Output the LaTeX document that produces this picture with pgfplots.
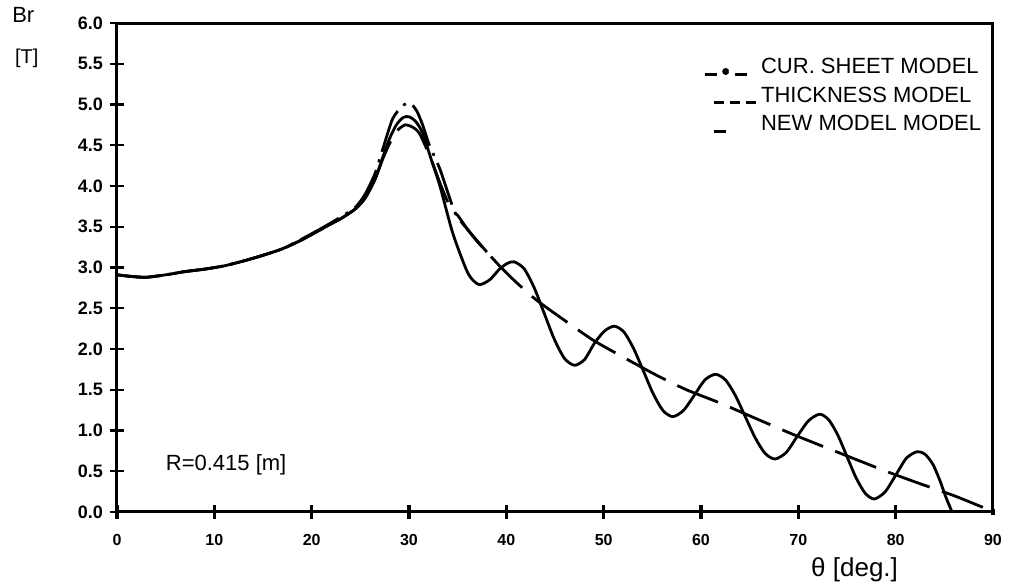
\documentclass[border=0pt]{standalone}
\usepackage{fontspec}
\setmainfont{Liberation Sans}
\usepackage{pgfplots}
\pgfplotsset{compat=1.18}

\begin{document}
\begin{tikzpicture}
\begin{axis}[
    scale only axis,
    width=438pt, height=244.5pt,
    xmin=0, xmax=90, ymin=0, ymax=6,
    xtick={0,10,...,90},
    ytick={0,0.5,...,6},
    axis line style={line width=1.5pt},
    every tick/.style={line width=1.2pt, black},
    tick align=center,
    xtick pos=bottom, ytick pos=left,
    major tick length=7pt,
    x tick style={line width=1.8pt, shorten <=2pt, shorten >=2pt},
    /pgf/number format/assume math mode=true,
    yticklabel style={font=\bfseries\fontsize{9}{10}\selectfont,
        /pgf/number format/.cd, fixed, fixed zerofill, precision=1},
    xticklabel style={font=\bfseries\fontsize{8}{9}\selectfont, yshift=-4pt},
    legend style={at={(0.662,0.945)}, anchor=north west, draw=none, fill=none,
        font=\fontsize{11}{13}\selectfont, row sep=1pt,
        cells={anchor=west}},
    clip=false,
]
% CUR. SHEET MODEL
\addplot[black, line width=1.4pt, smooth, tension=0.4,
    dash pattern=on 22pt off 4pt on 1.5pt off 4pt,
    legend image code/.code={
        \draw[line width=1.4pt] (0pt,-3.5pt) -- (6pt,-3.5pt);
        \fill (10.5pt,-2pt) circle (1pt);
        \draw[line width=1.4pt] (15pt,-3.5pt) -- (21pt,-3.5pt);}]
coordinates {
(0,2.91)(1.5,2.89)(3,2.88)(5,2.91)(7,2.95)(9,2.98)(11,3.02)(13,3.08)
(15,3.15)(17,3.23)(19,3.35)(21,3.48)(23,3.62)(24.5,3.74)(25.5,3.9)
(26.5,4.15)(27.3,4.45)(28.3,4.82)(29.3,4.98)(30.1,5.02)(30.8,4.92)
(31.4,4.75)(32.1,4.5)(33.2,4.2)(34.7,3.68)(36,3.47)(38,3.19)
};
% THICKNESS MODEL
\addplot[black, line width=1.4pt, smooth, tension=0.4,
    dash pattern=on 22pt off 6.5pt,
    legend image code/.code={
        \draw[line width=1.4pt] (4.5pt,-3.5pt) -- (9.5pt,-3.5pt);
        \draw[line width=1.4pt] (12.5pt,-3.5pt) -- (17.5pt,-3.5pt);
        \draw[line width=1.4pt] (20.5pt,-3.5pt) -- (25.5pt,-3.5pt);}]
coordinates {
(0,2.91)(1.5,2.89)(3,2.88)(5,2.91)(7,2.95)(9,2.98)(11,3.02)(13,3.08)
(15,3.15)(17,3.23)(19,3.34)(21,3.47)(23,3.6)(24.5,3.72)(25.5,3.86)
(26.5,4.08)(27.3,4.33)(28,4.52)(28.8,4.68)(29.6,4.75)(30.4,4.72)
(31.1,4.64)(32.2,4.35)(33.3,4.0)(34.3,3.72)(35.0,3.64)(36.0,3.47)
(37.0,3.32)(38.0,3.19)(39.3,3.02)(41,2.82)(43.1,2.6)(46,2.35)
(48.9,2.11)(52,1.9)(55.4,1.68)(58.5,1.5)(61.9,1.34)(65,1.18)
(68.9,0.98)(72,0.83)(75.6,0.66)(79,0.5)(82.2,0.36)(86,0.2)(89.1,0.05)
};
% NEW MODEL MODEL
\addplot[black, line width=1.4pt, smooth, tension=0.45,
    legend image code/.code={
        \draw[line width=1.4pt] (4.5pt,-3.5pt) -- (10.5pt,-3.5pt);}]
coordinates {
(0,2.91)(1.5,2.89)(3,2.88)(5,2.91)(7,2.95)(9,2.98)(11,3.02)(13,3.08)
(15,3.15)(17,3.23)(19,3.34)(21,3.47)(23,3.6)(24.5,3.72)(25.5,3.85)
(26.5,4.08)(27.3,4.35)(28,4.58)(28.7,4.75)(29.4,4.84)(30,4.85)
(30.7,4.79)(31.4,4.65)(32.3,4.32)(33.2,3.99)(34.5,3.42)(35.9,2.97)
(36.6,2.84)(37.3,2.79)(38.3,2.85)(39.3,2.98)(40.1,3.05)(40.8,3.07)
(41.83,2.985)(42.87,2.75)(43.9,2.435)(44.93,2.12)(45.97,1.885)(47.0,1.80)
(48.03,1.87)(49.05,2.07)(50.08,2.22)(51.1,2.28)
(52.1,2.206)(53.1,2.00)(54.1,1.725)(55.1,1.448)(56.1,1.244)(57.1,1.17)
(58.2,1.246)(59.3,1.43)(60.4,1.62)(61.5,1.69)
(62.52,1.62)(63.53,1.43)(64.55,1.17)(65.57,0.91)(66.58,0.72)(67.6,0.65)
(68.75,0.73)(69.9,0.93)(71.05,1.12)(72.2,1.20)
(73.13,1.13)(74.07,0.94)(75.0,0.68)(75.93,0.42)(76.87,0.23)(77.8,0.16)
(78.9,0.245)(80.0,0.45)(81.1,0.66)(82.2,0.74)
(83.0,0.71)(83.8,0.59)(84.5,0.40)(85.2,0.17)(85.8,0.0)
};
\legend{CUR. SHEET MODEL, THICKNESS MODEL, NEW MODEL MODEL}

\node[anchor=west, font=\fontsize{11}{13}\selectfont] at (axis cs:4.3,0.58) {R=0.415 [m]};
\node[font=\fontsize{11}{13}\selectfont] at (rel axis cs:-0.107,1.016) {Br};
\node[font=\fontsize{10}{12}\selectfont] at (rel axis cs:-0.103,0.928) {[T]};
\node[font=\fontsize{13}{15}\selectfont] at (rel axis cs:0.842,-0.119) {θ [deg.]};
\end{axis}
\pgfresetboundingbox
\path[use as bounding box] (-58.5pt,-38pt) rectangle (448.5pt,256pt);
\end{tikzpicture}
\end{document}
